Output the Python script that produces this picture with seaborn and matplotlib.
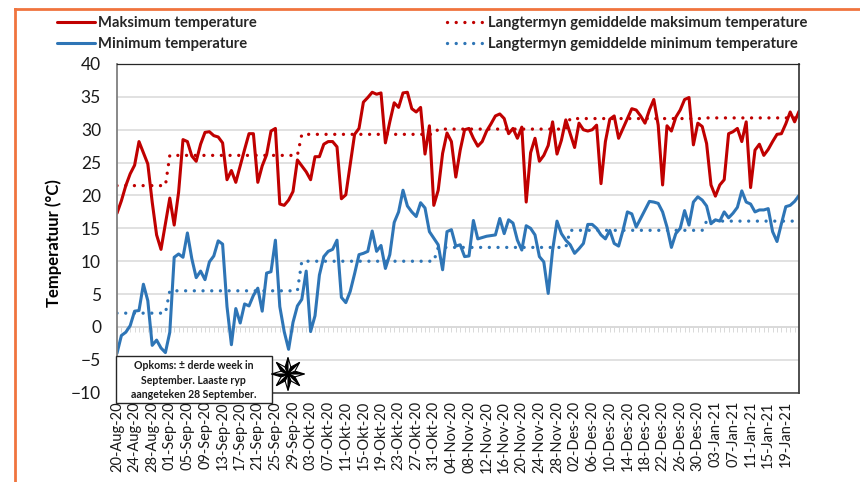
import numpy as np
import pandas as pd
import matplotlib.pyplot as plt
import seaborn as sns
from matplotlib.lines import Line2D
from matplotlib.patches import Polygon, Rectangle

START_DATE = '2020-08-20'

max_temp = [17.3, 19.2, 21.5, 23.3, 24.6, 28.2, 26.5, 24.8, 19.0, 14.0, 11.8, 15.7, 19.6, 15.5, 20.5, 28.5,
            28.2, 26.0, 25.2, 27.8, 29.6, 29.7, 29.1, 28.9, 28.0, 22.4, 23.8, 22.0, 24.5, 27.0, 29.4, 29.4,
            22.0, 24.5, 26.2, 29.8, 30.2, 18.7, 18.5, 19.3, 20.6, 25.4, 24.5, 23.6, 22.4, 25.9, 25.9, 27.8,
            28.2, 28.2, 27.4, 19.5, 20.1, 24.7, 29.3, 30.2, 34.2, 34.9, 35.7, 35.4, 35.6, 28.0, 31.2, 34.1,
            33.4, 35.6, 35.7, 33.2, 32.7, 33.4, 26.3, 30.6, 18.5, 20.8, 26.4, 29.5, 28.2, 22.8, 26.9, 30.0,
            30.2, 28.7, 27.5, 28.2, 29.8, 30.9, 32.1, 32.4, 31.7, 29.4, 30.2, 28.7, 30.4, 19.0, 26.5, 28.7,
            25.2, 26.1, 27.6, 31.2, 26.3, 28.4, 31.5, 29.4, 27.3, 31.0, 30.0, 29.8, 30.0, 30.7, 21.8, 28.2,
            31.6, 32.1, 28.7, 30.2, 31.7, 33.2, 33.0, 32.1, 31.0, 33.0, 34.6, 30.7, 21.6, 30.6, 29.8, 31.9,
            33.0, 34.6, 34.9, 27.7, 31.0, 30.5, 27.9, 21.6, 19.9, 21.6, 22.4, 29.4, 29.7, 30.2, 28.2, 31.2,
            21.2, 26.9, 27.8, 26.1, 27.0, 28.2, 29.3, 29.4, 30.9, 32.7, 31.2, 32.8]

min_temp = [-4.0, -1.3, -0.8, 0.2, 2.4, 2.5, 6.5, 4.0, -2.8, -2.0, -3.2, -3.9, -0.8, 10.6, 11.1, 10.6,
            14.3, 10.4, 7.5, 8.5, 7.2, 9.9, 10.8, 13.1, 12.6, 3.1, -2.7, 2.8, 0.6, 3.5, 3.2, 4.8,
            5.9, 2.4, 8.2, 8.4, 13.2, 3.1, -0.7, -3.4, 0.7, 3.2, 4.2, 8.5, -0.7, 1.7, 7.9, 10.7,
            11.5, 11.8, 13.2, 4.5, 3.7, 5.4, 8.1, 11.0, 11.2, 11.5, 14.6, 11.5, 12.4, 8.9, 11.0, 15.9,
            17.5, 20.8, 18.4, 17.5, 16.8, 18.9, 18.1, 14.5, 13.5, 12.5, 8.7, 14.5, 14.8, 12.3, 12.5, 10.7,
            10.8, 16.2, 13.4, 13.6, 13.8, 13.9, 14.0, 16.5, 14.2, 16.3, 15.8, 13.2, 11.7, 15.4, 15.0, 14.0,
            10.7, 9.9, 5.1, 11.7, 16.1, 14.2, 13.2, 12.5, 11.2, 11.9, 12.7, 15.6, 15.6, 15.0, 14.0, 13.4,
            14.7, 12.7, 12.3, 14.7, 17.5, 17.2, 15.2, 16.5, 17.8, 19.1, 19.0, 18.8, 17.5, 15.2, 12.1, 14.2,
            15.0, 17.7, 15.5, 19.0, 19.8, 19.3, 18.4, 15.7, 16.3, 16.1, 17.5, 16.6, 17.3, 18.2, 20.7, 19.0,
            18.7, 17.5, 17.8, 17.8, 18.0, 14.5, 13.0, 15.7, 18.3, 18.5, 19.1, 20.0]

# long term means per calendar month (Aug to Jan)
lt_months = [8, 9, 10, 11, 12, 1]
lt_max_month = [21.5, 26.1, 29.3, 30.1, 31.7, 31.8]
lt_min_month = [2.1, 5.5, 10.0, 12.1, 14.7, 16.1]

month_names = {1: 'Jan', 8: 'Aug', 9: 'Sep', 10: 'Okt', 11: 'Nov', 12: 'Des'}

RED = '#C00000'
BLUE = '#2E75B6'
GRID = '#D9D9D9'
DOTTED = (0, (0.01, 2.6))

dates = pd.date_range(START_DATE, periods=len(max_temp), freq='D')
lt_max = [dict(zip(lt_months, lt_max_month))[d.month] for d in dates]
lt_min = [dict(zip(lt_months, lt_min_month))[d.month] for d in dates]
tick_dates = dates[::4]
tick_labels = [f'{d.day:02d}-{month_names[d.month]}-{d.year % 100}' for d in tick_dates]

sns.set_theme(style='white')
plt.rcParams['font.family'] = ['Lato', 'DejaVu Sans']

fig = plt.figure(figsize=(8.6, 4.82), dpi=100)
W, H = 860, 482
ax = fig.add_axes([117 / W, 1 - 392.7 / H, (799 - 117) / W, (392.7 - 64) / H])

ax.grid(axis='y', color=GRID, linewidth=1.1)
ax.set_axisbelow(True)

# small daily ticks hanging under the zero line
ax.vlines(dates, -0.75, 0, color=GRID, linewidth=0.7, zorder=1)
ax.axhline(0, color=GRID, linewidth=1.1, zorder=1)

sns.lineplot(x=dates, y=lt_max, ax=ax, color=RED, linewidth=2.4, linestyle=DOTTED,
             dash_capstyle='round', legend=False)
sns.lineplot(x=dates, y=lt_min, ax=ax, color=BLUE, linewidth=2.4, linestyle=DOTTED,
             dash_capstyle='round', legend=False)
sns.lineplot(x=dates, y=max_temp, ax=ax, color=RED, linewidth=2.2, legend=False)
sns.lineplot(x=dates, y=min_temp, ax=ax, color=BLUE, linewidth=2.2, legend=False)

ax.set_xlim(dates[0], dates[-1])
ax.set_ylim(-10, 40)
ax.set_yticks(range(-10, 45, 5))
ax.set_xticks(tick_dates)
ax.set_xticklabels(tick_labels, rotation=90, fontsize=10.5, color='#1a1a1a')
ax.tick_params(axis='y', length=0, labelsize=12.5, labelcolor='#1a1a1a', pad=11.5)
ax.tick_params(axis='x', length=0, pad=6)
ax.set_xlabel('')
ax.set_ylabel('Temperatuur (°C)', fontsize=12, fontweight='bold', color='black')
ax.yaxis.set_label_coords(-0.08, 0.455)

for side in ['top', 'right', 'left', 'bottom']:
    ax.spines[side].set_visible(True)
ax.spines['top'].set_color('#262626')
ax.spines['top'].set_linewidth(0.9)
ax.spines['right'].set_color('#404040')
ax.spines['right'].set_linewidth(1.3)
ax.spines['left'].set_color('#7f7f7f')
ax.spines['left'].set_linewidth(1.3)
ax.spines['bottom'].set_color('#404040')
ax.spines['bottom'].set_linewidth(1.1)

# two separate legends so each column can sit where it does in the original
legend_kw = dict(loc='upper left', bbox_transform=fig.transFigure, frameon=False, handlelength=2.6,
                 handletextpad=0.2, labelspacing=0.47, borderpad=0, borderaxespad=0,
                 prop={'size': 10.6, 'weight': 'bold'})
fig.legend([Line2D([0], [0], color=RED, lw=2.2), Line2D([0], [0], color=BLUE, lw=2.2)],
           ['Maksimum temperature', 'Minimum temperature'],
           bbox_to_anchor=(57 / W, 1 - 16 / H), **legend_kw)
fig.legend([Line2D([0], [0], color=RED, lw=2.4, linestyle=DOTTED, dash_capstyle='round'),
            Line2D([0], [0], color=BLUE, lw=2.4, linestyle=DOTTED, dash_capstyle='round')],
           ['Langtermyn gemiddelde maksimum temperature', 'Langtermyn gemiddelde minimum temperature'],
           bbox_to_anchor=(447 / W, 1 - 16 / H), **legend_kw)

# note box under the chart
fig.add_artist(Rectangle((116 / W, 1 - 402.7 / H), 155.5 / W, 46.7 / H, transform=fig.transFigure,
                         facecolor='white', edgecolor='#262626', linewidth=1.0, zorder=5))
for txt, y in zip(['Opkoms: ± derde week in', 'September. Laaste ryp', 'aangeteken 28 September.'],
                  [365.5, 380, 394.5]):
    fig.text(193.5 / W, 1 - y / H, txt, ha='center', va='center', fontsize=7.6, fontweight='bold',
             color='#1a1a1a', zorder=6)

# eight point star with black and white facets
cx, cy = 288, 374
r_out, r_in = 16.5, 7.5
for k in range(8):
    a = np.pi / 4 * k
    tip = (cx + r_out * np.cos(a), cy + r_out * np.sin(a))
    for s, col in zip([-1, 1], ['black', 'white']):
        b = a + s * np.pi / 8
        side = (cx + r_in * np.cos(b), cy + r_in * np.sin(b))
        pts = [(cx, cy), tip, side]
        fig.add_artist(Polygon([(x / W, 1 - y / H) for x, y in pts], closed=True, transform=fig.transFigure,
                               facecolor=col, edgecolor='black', linewidth=0.8, zorder=5))

# orange frame round the whole figure
fig.add_artist(Line2D([14.5 / W, 14.5 / W], [0, 1 - 8.5 / H], color='#F0743E', lw=2.0,
                      transform=fig.transFigure, solid_capstyle='projecting'))
fig.add_artist(Line2D([14.5 / W, 1], [1 - 8.5 / H, 1 - 8.5 / H], color='#F0743E', lw=2.0,
                      transform=fig.transFigure, solid_capstyle='projecting'))

fig.savefig('out.png', dpi=100, facecolor='white')
